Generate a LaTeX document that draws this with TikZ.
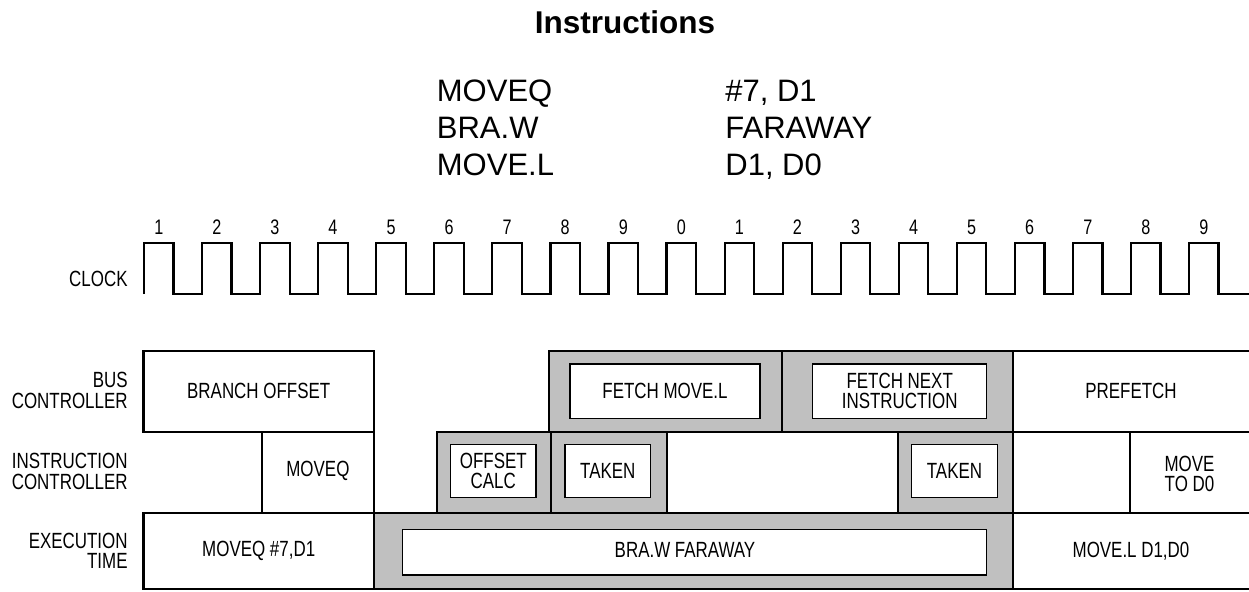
\documentclass[tikz,border=0pt]{standalone}
\usepackage{fontspec}
\setmainfont{Liberation Sans}
\newfontfamily\condfont[FakeStretch=0.77]{Liberation Sans}
\definecolor{busgray}{HTML}{C0C0C0}
\begin{document}
\begin{tikzpicture}[x=0.5pt,y=-0.5pt,font=\condfont\fontsize{11}{10.2}\selectfont,
  cell/.style={draw,line width=1.1pt,fill=white},
  shade/.style={draw,line width=1.1pt,fill=busgray},
  inbox/.style={draw,line width=0.6pt,fill=white},
  lbl/.style={align=center,inner sep=0pt},
  side/.style={align=right,anchor=east,inner sep=0pt},
  big/.style={font=\rmfamily\fontsize{15.5}{18}\selectfont,inner sep=0pt,anchor=base west}]
\useasboundingbox (0,0) rectangle (1249,591);
\node[font=\rmfamily\bfseries\fontsize{15.75}{18}\selectfont,inner sep=0pt,anchor=base] at (625,33.3) (title) {Instructions};
\foreach \op/\opnd/\y [count=\i] in {MOVEQ/{\#7, D1}/101.7,BRA.W/FARAWAY/138.3,MOVE.L/{D1, D0}/175}{
  \node[big] at (436.5,\y) (op\i) {\op};
  \node[big] at (725,\y) (arg\i) {\opnd};
}
\node[side] at (128,279) (clk) {CLOCK};
\draw[line width=1.1pt] (144,294) foreach \k in {0,...,18}{ -- ++(0,-51) -- ++(29.5,0) -- ++(0,51) -- ++(28.56,0)} -- (1249,294);
\foreach \k in {0,...,18}{
  \pgfmathtruncatemacro\dg{mod(\k+1,10)}
  \node[font=\condfont\fontsize{10.5}{12}\selectfont] at (158.8+58.06*\k,227) (t\k) {\dg};
}
\node[side] at (128,390.5) (busl) {BUS\\CONTROLLER};
\draw[cell] (143.5,351) rectangle (374,432.3);
\node[lbl] at (258.7,391.2) (boff) {BRANCH OFFSET};
\draw[shade] (549,351) rectangle (781.7,432.3);
\draw[shade] (781.7,351) rectangle (1013.3,432.3);
\draw[inbox] (570,364) rectangle (760,418.3);
\node[lbl] at (665,391.2) (fml) {FETCH MOVE.L};
\draw[inbox] (812.7,364) rectangle (986.7,418.3);
\node[lbl] at (899.7,390.7) (fni) {FETCH NEXT\\INSTRUCTION};
\draw[cell] (1013.3,351) rectangle (1252,432.3);
\node[lbl] at (1131,390.8) (pref) {PREFETCH};
\node[side] at (128,471.5) (insl) {INSTRUCTION\\CONTROLLER};
\draw[cell] (261.7,432.3) rectangle (374,513.3);
\node[lbl] at (317.9,470.8) (iq) {MOVEQ};
\draw[shade] (436.7,432.3) rectangle (551,513.3);
\draw[inbox] (450.7,444.3) rectangle (536,497.3);
\node[lbl] at (493.3,470.8) (oc) {OFFSET\\CALC};
\draw[shade] (551,432.3) rectangle (666.7,513.3);
\draw[inbox] (565,444.3) rectangle (650.7,497.3);
\node[lbl] at (607.8,470.8) (tk1) {TAKEN};
\draw[cell] (666.7,432.3) rectangle (898.3,513.3);
\draw[shade] (898.3,432.3) rectangle (1013.3,513.3);
\draw[inbox] (911.7,444.3) rectangle (997.3,497.3);
\node[lbl] at (954.5,470.8) (tk2) {TAKEN};
\draw[cell] (1013.3,432.3) rectangle (1130,513.3);
\draw[cell] (1130,432.3) rectangle (1252,513.3);
\node[lbl] at (1189.5,474) (mv) {MOVE\\TO D0};
\node[side] at (128,551) (exl) {EXECUTION\\TIME};
\draw[cell] (143.5,513.3) rectangle (374,589.3);
\node[lbl] at (258.7,551) (eq) {MOVEQ \#7,D1};
\draw[shade] (374,513.3) rectangle (1013.3,589.3);
\draw[inbox] (402.7,529.3) rectangle (986.7,575);
\node[lbl] at (685,550) (bra) {BRA.W FARAWAY};
\draw[cell] (1013.3,513.3) rectangle (1252,589.3);
\node[lbl] at (1131,551) (ml) {MOVE.L D1,D0};
\end{tikzpicture}
\end{document}
